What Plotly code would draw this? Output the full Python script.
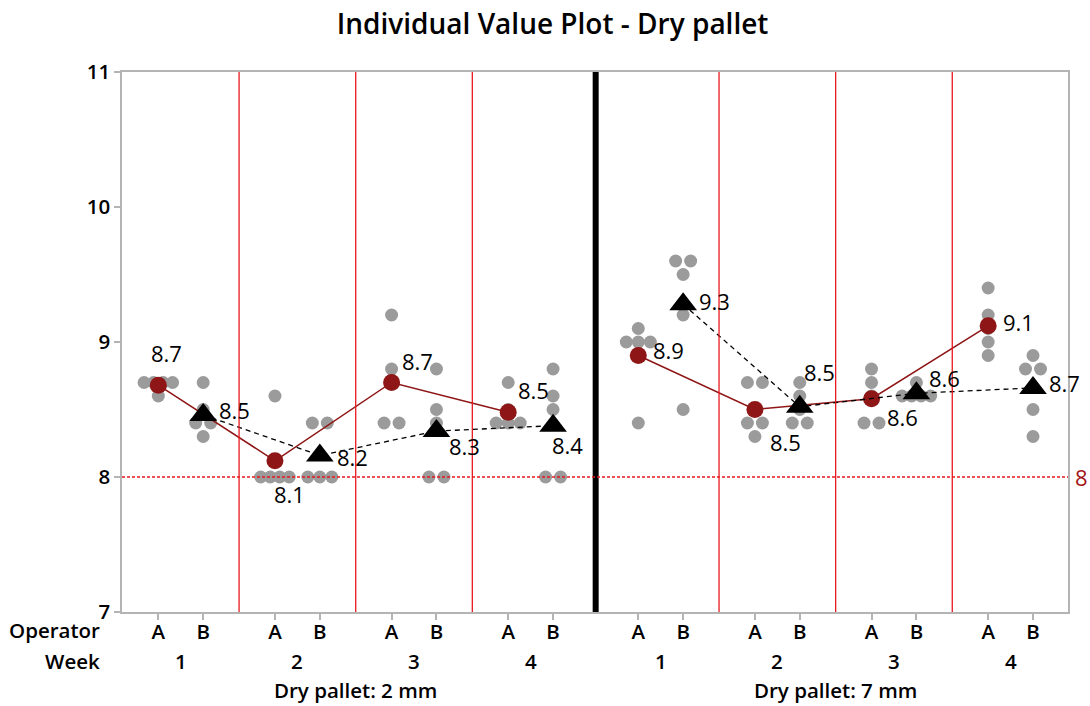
import plotly.graph_objects as go
from collections import Counter

# ---- data -------------------------------------------------------------
panels = ["Dry pallet: 2 mm", "Dry pallet: 7 mm"]
weeks = ["1", "2", "3", "4"]
operators = ["A", "B"]

# individual readings per week (weeks 1..4), five per operator
vals_2mm_A = [[8.7, 8.7, 8.7, 8.7, 8.6],
              [8.6, 8.0, 8.0, 8.0, 8.0],
              [9.2, 8.8, 8.7, 8.4, 8.4],
              [8.7, 8.5, 8.4, 8.4, 8.4]]
vals_2mm_B = [[8.7, 8.5, 8.4, 8.4, 8.3],
              [8.4, 8.4, 8.0, 8.0, 8.0],
              [8.8, 8.5, 8.4, 8.0, 8.0],
              [8.8, 8.6, 8.5, 8.0, 8.0]]
vals_7mm_A = [[9.1, 9.0, 9.0, 9.0, 8.4],
              [8.7, 8.7, 8.4, 8.4, 8.3],
              [8.8, 8.7, 8.6, 8.4, 8.4],
              [9.4, 9.2, 9.1, 9.0, 8.9]]
vals_7mm_B = [[9.6, 9.6, 9.5, 9.2, 8.5],
              [8.7, 8.6, 8.5, 8.4, 8.4],
              [8.7, 8.6, 8.6, 8.6, 8.6],
              [8.9, 8.8, 8.8, 8.5, 8.3]]
reference_value = 8
y_ticks = [7, 8, 9, 10, 11]

data = {
    (0, "A"): vals_2mm_A, (0, "B"): vals_2mm_B,
    (1, "A"): vals_7mm_A, (1, "B"): vals_7mm_B,
}

# ---- layout constants ---------------------------------------------------
W, H = 1090, 706
ML, MR, MT, MB = 122, 22, 72, 94
X_RANGE = [-0.81, 20.28]
PANEL_OFFSET = [0.0, 10.7]
WEEK_STEP = 2.6
OP_STEP = 1.0
PX_PER_UNIT = (W - ML - MR) / (X_RANGE[1] - X_RANGE[0])

GREY = "#9b9b9b"
DARK_RED = "#8e1616"
RED = "#e8191e"
FONT = "Open Sans"
AXIS_FONT = dict(family=FONT, size=20.5, color="black", weight=600)

# pixel spacing of dots sharing the same value, by row size
ROW_SPACING = {1: 0.0, 2: 15.0, 3: 12.0, 4: 9.5, 5: 8.0}


def xpos(p, w, o):
    return PANEL_OFFSET[p] + w * WEEK_STEP + o * OP_STEP


def stacked(x0, vals):
    xs, ys = [], []
    counts = Counter(vals)
    for v, n in counts.items():
        sp = ROW_SPACING.get(n, 8.0)
        for k in range(n):
            xs.append(x0 + (k - (n - 1) / 2) * sp / PX_PER_UNIT)
            ys.append(v)
    return xs, ys


fig = go.Figure()

# individual points
dx, dy = [], []
for (p, op), weekly in data.items():
    o = operators.index(op)
    for w, vals in enumerate(weekly):
        xs, ys = stacked(xpos(p, w, o), vals)
        dx += xs
        dy += ys
fig.add_trace(go.Scatter(x=dx, y=dy, mode="markers",
                         marker=dict(size=13, color=GREY),
                         hoverinfo="skip", showlegend=False))

# mean label offsets (pixels) per panel, operator, week
label_shift = {
    (0, "A"): [(8, -32), (15, 33), (26, -22), (25, -22)],
    (0, "B"): [(31, -5), (33, 2), (28, 15), (14, 19)],
    (1, "A"): [(30, -6), (31, 32), (31, 18), (30, -4)],
    (1, "B"): [(31, -3), (20, -35), (28, -15), (31, -5)],
}

annotations = []
for p in range(2):
    for op in operators:
        o = operators.index(op)
        weekly = data[(p, op)]
        mx = [xpos(p, w, o) for w in range(len(weeks))]
        my = [sum(v) / len(v) for v in weekly]
        if op == "A":
            line = dict(color=DARK_RED, width=1.5)
            marker = dict(size=17, color=DARK_RED, symbol="circle")
        else:
            line = dict(color="black", width=1.3, dash="5px,4px")
            marker = dict(size=24, color="black", symbol="triangle-up")
        fig.add_trace(go.Scatter(x=mx, y=my, mode="lines", line=line,
                                 hoverinfo="skip", showlegend=False))
        fig.add_trace(go.Scatter(x=mx, y=my, mode="markers", marker=marker,
                                 hoverinfo="skip", showlegend=False))
        for w in range(len(weeks)):
            sx, sy = label_shift[(p, op)][w]
            annotations.append(dict(
                x=mx[w], y=my[w], xref="x", yref="y", text=f"{my[w]:.1f}",
                showarrow=False, xshift=sx, yshift=-sy,
                font=dict(family=FONT, size=22, color="black")))

shapes = []
# week separators and panel separator
for p in range(2):
    for w in range(len(weeks) - 1):
        xs = (xpos(p, w, 1) + xpos(p, w + 1, 0)) / 2
        shapes.append(dict(type="line", xref="x", yref="paper", x0=xs, x1=xs,
                           y0=0, y1=1, line=dict(color=RED, width=1.3)))
xdiv = (xpos(0, 3, 1) + xpos(1, 0, 0)) / 2
shapes.append(dict(type="line", xref="x", yref="paper", x0=xdiv, x1=xdiv,
                   y0=0, y1=1, line=dict(color="black", width=6)))
# reference line
shapes.append(dict(type="line", xref="paper", yref="y", x0=0, x1=1,
                   y0=reference_value, y1=reference_value,
                   line=dict(color=RED, width=1.5, dash="3px,2px")))
annotations.append(dict(x=1, y=reference_value, xref="paper", yref="y",
                        text=str(reference_value), showarrow=False,
                        xanchor="left", xshift=5,
                        font=dict(family=FONT, size=22, color="#a31515")))

# category labels under the axis
tickvals, ticktext = [], []
for p in range(2):
    for w in range(len(weeks)):
        for o, op in enumerate(operators):
            tickvals.append(xpos(p, w, o))
            ticktext.append(op)
        annotations.append(dict(
            x=(xpos(p, w, 0) + xpos(p, w, 1)) / 2, y=0, xref="x", yref="paper",
            text=weeks[w], showarrow=False, yanchor="middle",
            yshift=-49, font=AXIS_FONT))
    annotations.append(dict(
        x=(xpos(p, 0, 0) + xpos(p, 3, 1)) / 2, y=0, xref="x", yref="paper",
        text=panels[p], showarrow=False, yanchor="middle",
        yshift=-78, font=AXIS_FONT))

for txt, ys in (("Operator", -18), ("Week", -49)):
    annotations.append(dict(x=0, y=0, xref="paper", yref="paper",
                            text=txt, showarrow=False,
                            xanchor="right", yanchor="middle",
                            xshift=-20, yshift=ys, font=AXIS_FONT))

fig.update_layout(
    width=W, height=H,
    margin=dict(l=ML, r=MR, t=MT, b=MB),
    paper_bgcolor="white", plot_bgcolor="white",
    title=dict(text="Individual Value Plot - Dry pallet",
               x=0.507, xref="container", xanchor="center",
               y=1 - 24 / H, yref="container", yanchor="middle",
               font=dict(family=FONT, size=28, color="black", weight=600)),
    xaxis=dict(range=X_RANGE, tickvals=tickvals, ticktext=ticktext,
               showgrid=False, zeroline=False, showline=True, mirror=True,
               linecolor="#b4b4b4", linewidth=1.5, ticks="outside",
               ticklen=6, tickcolor="#b4b4b4", tickwidth=1.5,
               ticklabelstandoff=-5, tickfont=AXIS_FONT),
    yaxis=dict(range=[7, 11], tickvals=y_ticks, showgrid=False, zeroline=False,
               showline=True, mirror=True, linecolor="#b4b4b4", linewidth=1.5,
               ticks="outside", ticklen=6, tickcolor="#b4b4b4", tickwidth=1.5,
               tickfont=AXIS_FONT),
    shapes=shapes, annotations=annotations,
)

fig.write_html("out.html")
